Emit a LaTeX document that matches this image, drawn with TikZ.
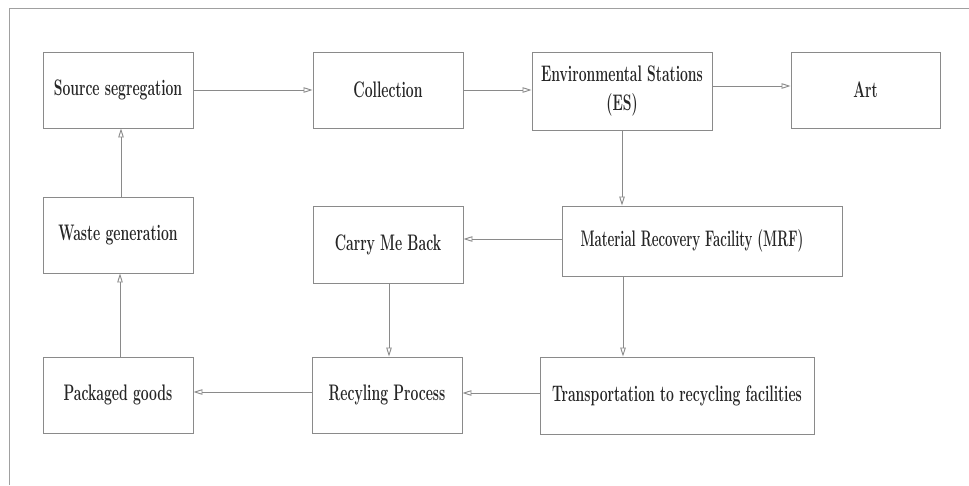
\documentclass[tikz,border=0pt]{standalone}
\usepackage{graphicx}
\usetikzlibrary{arrows.meta}
\definecolor{linegray}{HTML}{8A8A8A}
\definecolor{framegray}{HTML}{A0A0A0}
\definecolor{txt}{HTML}{262626}
\newcommand{\sq}[1]{\scalebox{0.62}[1]{#1}}
\tikzset{
  box/.style={draw=linegray, line width=0.9pt, rectangle, inner sep=0pt,
    minimum width=150pt, minimum height=76pt, align=center, text=txt,
    font=\fontsize{22.5}{29}\selectfont\bfseries},
  arr/.style={draw=linegray, line width=0.9pt,
    -{Triangle[open,length=9pt,width=5.5pt]}}
}
\begin{document}
\begin{tikzpicture}[x=1pt,y=-1pt]
\useasboundingbox (0,0) rectangle (969,485);
\fill[white] (0,0) rectangle (969,485);
% partial frame
\draw[framegray, line width=0.9pt] (9,485) -- (9,8) -- (969,8);
% nodes
\node[box] (src) at (118,90) {\sq{Source segregation}};
\node[box] (col) at (388,90) {\sq{Collection}};
\node[box, minimum width=180pt, minimum height=78pt] (es) at (622,91) {\sq{Environmental Stations}\\\sq{(ES)}};
\node[box, minimum width=149pt] (art) at (865.5,90) {\sq{Art}};
\node[box, minimum width=280pt, minimum height=70pt] (mrf) at (702,241) {\scalebox{0.585}[1]{Material Recovery Facility (MRF)}\hspace{20pt}};
\node[box, minimum height=77pt] (cmb) at (388,244.5) {\sq{Carry Me Back}};
\node[box] (wg) at (118,235) {\sq{Waste generation}};
\node[box] (pg) at (118,395) {\sq{Packaged goods}};
\node[box] (rp) at (387,395) {\sq{Recyling Process}};
\node[box, minimum width=274pt, minimum height=77pt] (tr) at (677,395.5) {\sq{Transportation to recycling facilities}};
% connectors
\draw[arr] (src.east) -- (col.west);
\draw[arr] (col.east) -- (es.west |- col.east);
\draw[arr] (es.east |- 0,86) -- (art.west |- 0,86);
\draw[arr] (es.south) -- (mrf.north -| es.south);
\draw[arr] (mrf.west |- 0,239) -- (cmb.east |- 0,239);
\draw[arr] (mrf.south -| 623,0) -- (tr.north -| 623,0);
\draw[arr] (cmb.south -| 389,0) -- (rp.north -| 389,0);
\draw[arr] (tr.west |- 0,393) -- (rp.east |- 0,393);
\draw[arr] (rp.west |- 0,392) -- (pg.east |- 0,392);
\draw[arr] (pg.north -| 120,0) -- (wg.south -| 120,0);
\draw[arr] (wg.north -| 121,0) -- (src.south -| 121,0);
\end{tikzpicture}
\end{document}
